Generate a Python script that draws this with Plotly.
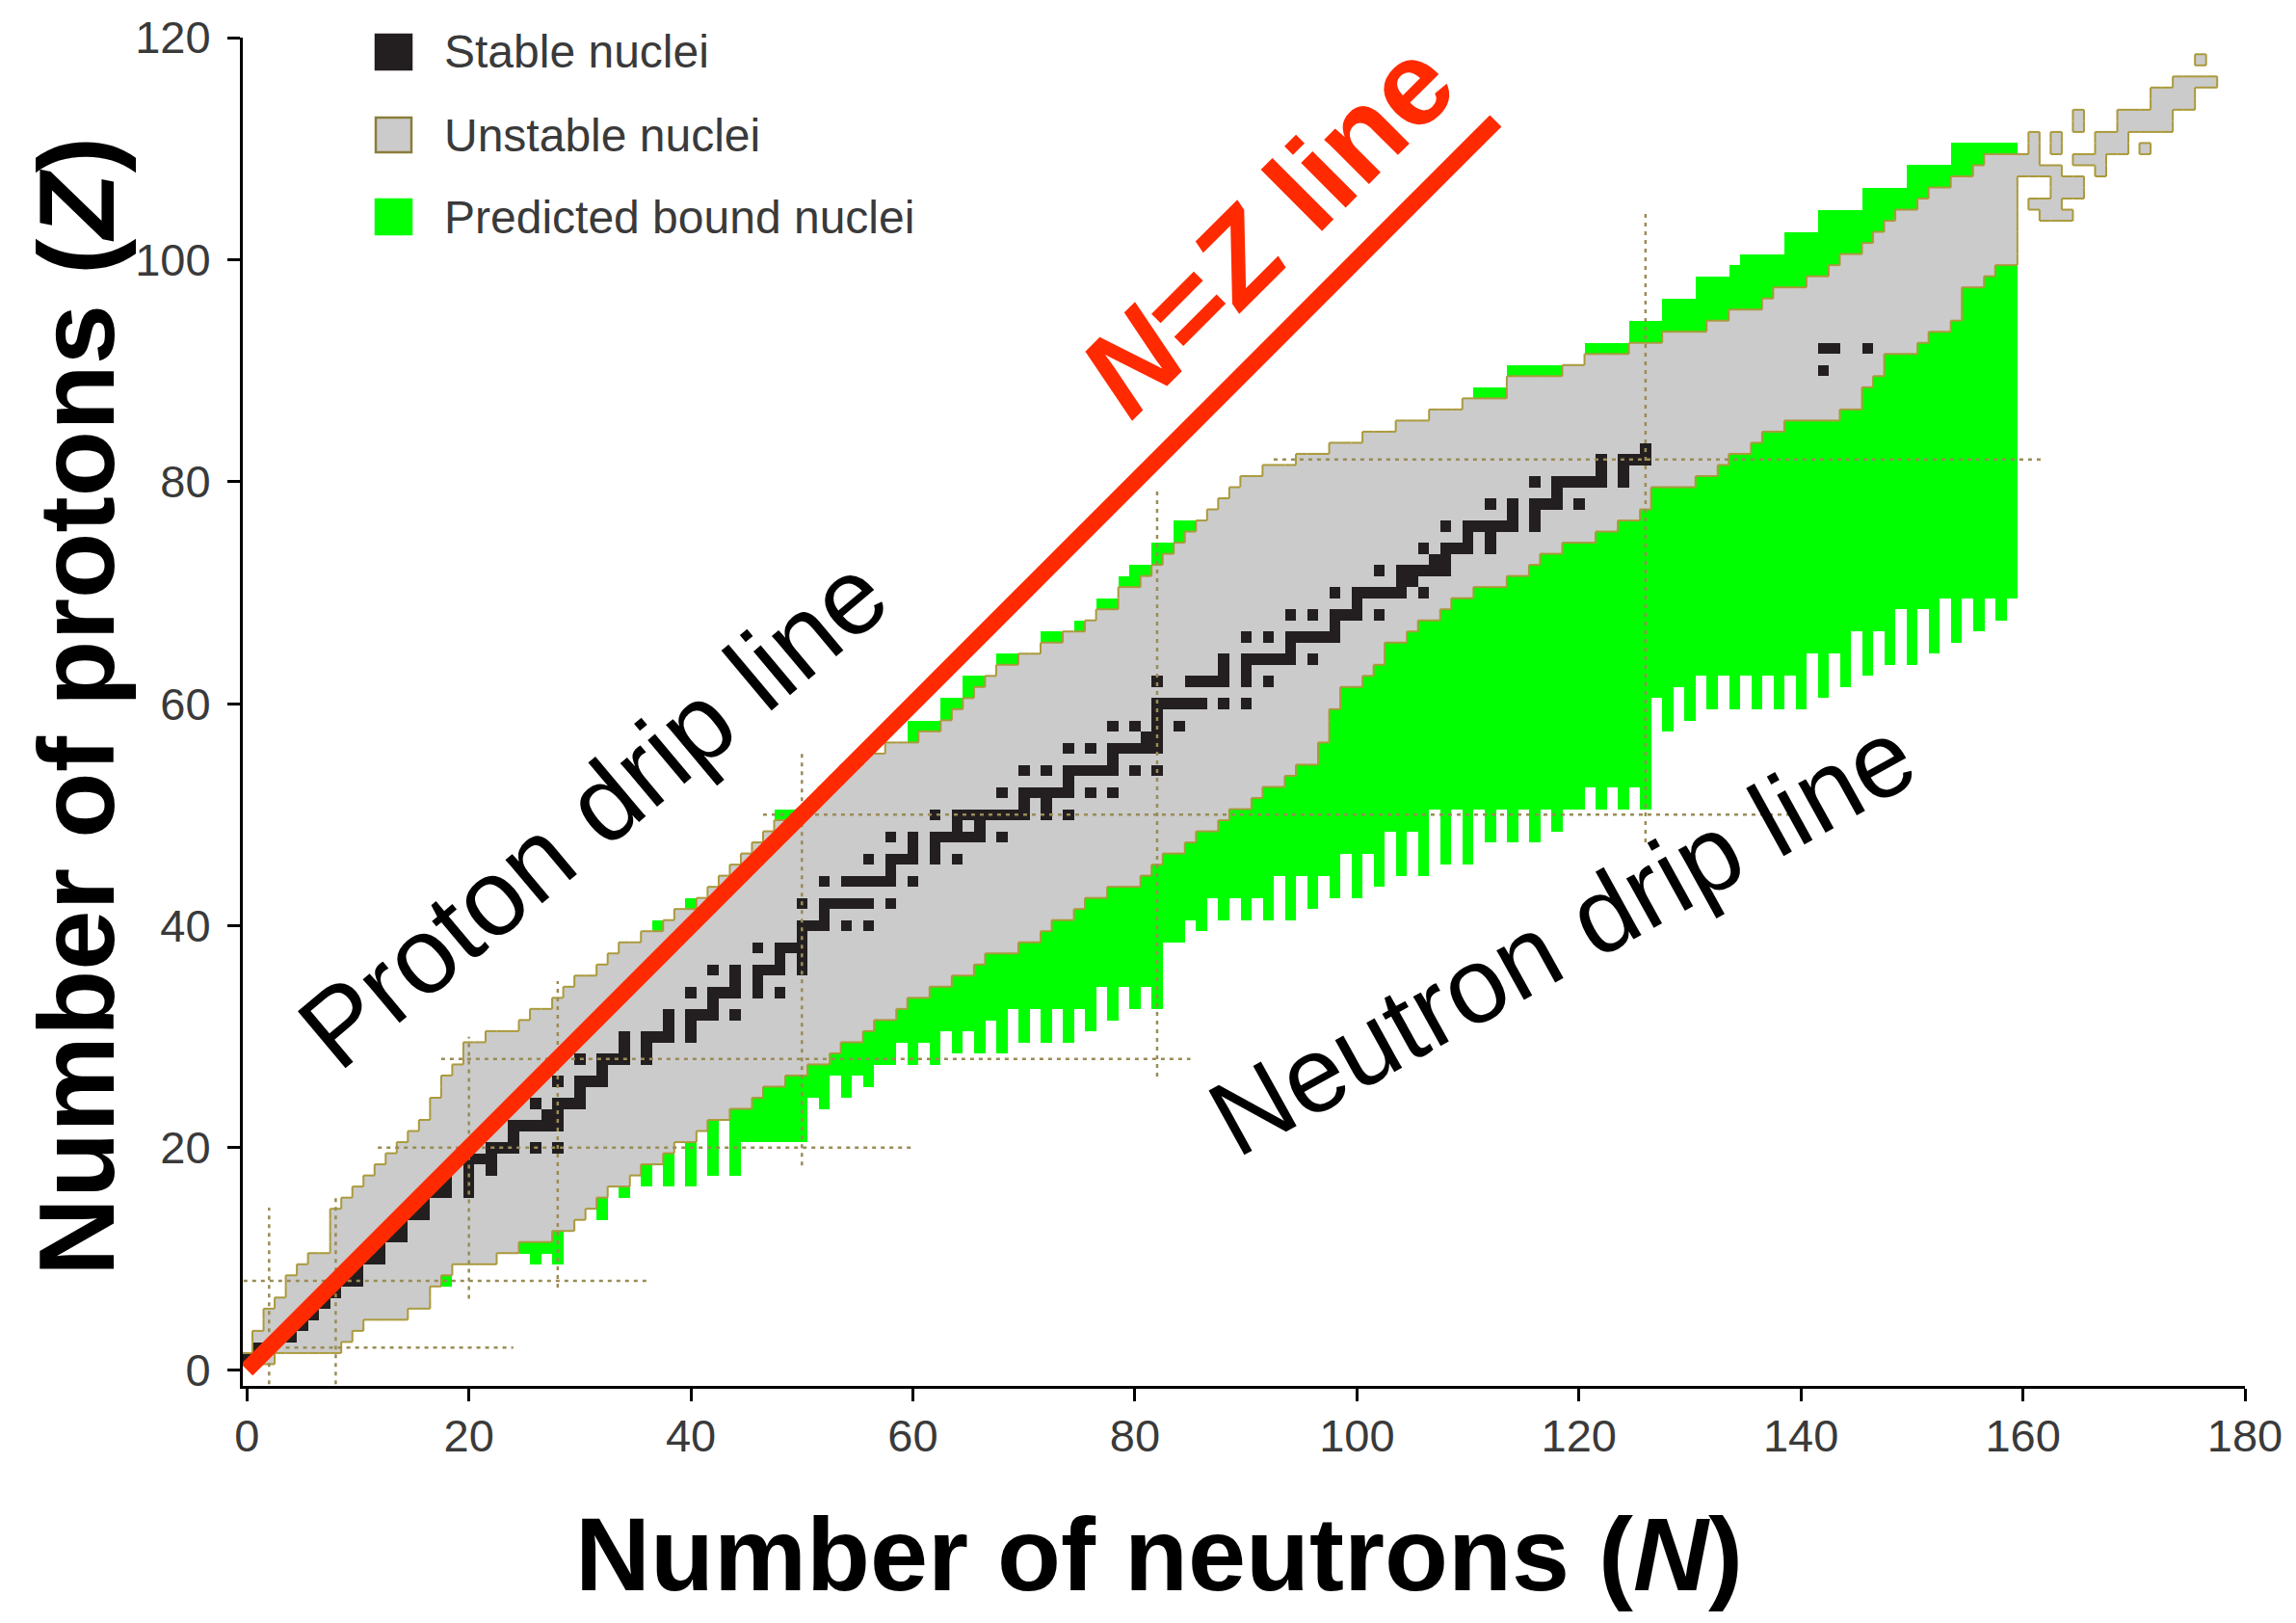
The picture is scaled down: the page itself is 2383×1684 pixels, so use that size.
import plotly.graph_objects as go

# ---------------- data ----------------
# Column-wise description of the chart of nuclides, N = 0 .. 159
# gray_lo / gray_hi : lowest / highest Z of known (unstable) nuclei per N
gray_lo = [
    1, 1, 1, 2, 2, 2, 2, 2, 2, 3,
    4, 5, 5, 5, 5, 6, 6, 8, 9, 10,
    10, 10, 10, 11, 11, 12, 12, 12, 13, 13,
    14, 15, 16, 17, 17, 18, 19, 19, 20, 21,
    21, 22, 23, 23, 24, 24, 25, 26, 26, 27,
    27, 28, 28, 29, 30, 30, 31, 32, 32, 33,
    34, 34, 35, 35, 36, 36, 37, 38, 38, 38,
    39, 39, 40, 41, 41, 42, 43, 43, 44, 44,
    44, 45, 46, 47, 47, 48, 49, 49, 50, 51,
    51, 52, 53, 53, 54, 55, 55, 57, 60, 62,
    62, 63, 64, 66, 66, 67, 68, 68, 69, 70,
    70, 71, 71, 71, 72, 72, 73, 74, 74, 75,
    75, 75, 76, 76, 77, 77, 78, 80, 80, 80,
    80, 81, 81, 82, 83, 83, 84, 85, 85, 86,
    86, 86, 86, 86, 87, 87, 89, 90, 92, 92,
    92, 93, 94, 94, 95, 98, 98, 99, 100, 100,
]
gray_hi = [
    1, 3, 5, 6, 8, 9, 10, 10, 14, 15,
    16, 17, 18, 19, 20, 21, 22, 24, 26, 27,
    29, 29, 30, 30, 30, 31, 32, 32, 33, 34,
    35, 35, 36, 37, 38, 38, 39, 39, 40, 41,
    41, 42, 43, 44, 45, 46, 47, 48, 49, 49,
    50, 51, 52, 53, 54, 54, 55, 55, 56, 56,
    56, 57, 57, 58, 59, 60, 61, 62, 63, 63,
    64, 64, 65, 65, 66, 66, 67, 68, 68, 70,
    70, 71, 72, 73, 74, 75, 76, 77, 78, 79,
    80, 80, 81, 81, 81, 82, 82, 82, 83, 83,
    83, 84, 84, 84, 85, 85, 85, 86, 86, 86,
    87, 87, 87, 87, 89, 89, 89, 89, 89, 90,
    90, 91, 91, 91, 91, 92, 92, 92, 93, 93,
    93, 93, 94, 94, 95, 95, 95, 96, 97, 97,
    97, 98, 98, 99, 100, 100, 101, 102, 103, 104,
    104, 105, 106, 106, 107, 107, 108, 109, 109, 109,
]
# green_lo / green_hi : lowest / highest Z of predicted bound nuclei per N
green_lo = [
    1, 1, 1, 2, 2, 2, 2, 2, 2, 3,
    4, 5, 5, 5, 5, 6, 6, 8, 8, 10,
    10, 10, 10, 11, 11, 11, 10, 11, 10, 13,
    14, 15, 14, 17, 16, 18, 17, 19, 17, 21,
    17, 22, 18, 23, 18, 21, 21, 21, 21, 21,
    21, 25, 24, 27, 25, 27, 26, 28, 28, 30,
    28, 30, 28, 31, 29, 31, 29, 32, 29, 33,
    30, 33, 30, 33, 30, 33, 31, 35, 32, 35,
    33, 35, 33, 39, 39, 41, 40, 43, 41, 43,
    41, 43, 41, 45, 41, 45, 42, 45, 43, 47,
    43, 47, 44, 49, 45, 49, 45, 51, 46, 51,
    46, 51, 48, 51, 48, 51, 48, 51, 49, 51,
    51, 53, 51, 53, 51, 53, 51, 61, 58, 62,
    59, 63, 60, 63, 60, 63, 60, 63, 60, 63,
    60, 65, 61, 65, 62, 67, 63, 67, 64, 69,
    64, 69, 65, 70, 66, 70, 67, 70, 68, 70,
]
green_hi = [
    1, 3, 5, 6, 8, 9, 10, 10, 14, 15,
    16, 17, 18, 19, 20, 21, 22, 24, 26, 27,
    29, 29, 30, 30, 30, 31, 32, 32, 33, 34,
    35, 35, 36, 37, 38, 38, 39, 40, 40, 41,
    42, 42, 43, 44, 45, 46, 47, 48, 50, 50,
    50, 51, 52, 53, 54, 54, 55, 55, 56, 56,
    58, 58, 58, 60, 60, 62, 62, 62, 64, 64,
    64, 64, 66, 66, 66, 67, 67, 69, 69, 71,
    72, 72, 74, 74, 76, 76, 76, 77, 78, 79,
    80, 80, 81, 81, 81, 82, 82, 82, 83, 83,
    83, 84, 84, 84, 85, 85, 85, 86, 86, 86,
    87, 88, 88, 88, 90, 90, 90, 90, 90, 90,
    90, 92, 92, 92, 92, 94, 94, 94, 96, 96,
    96, 98, 98, 98, 99, 100, 100, 100, 100, 102,
    102, 102, 104, 104, 104, 104, 106, 106, 106, 106,
    108, 108, 108, 108, 110, 110, 110, 110, 110, 110,
]
# isolated known superheavy nuclei beyond the main band (N, Z)
superheavy_N = [160, 160, 161, 161, 161, 161, 162, 163, 163, 163, 164, 164, 165, 165,
                161, 162, 163, 162, 163, 164, 163, 163, 165, 165,
                165, 166, 167, 167, 167, 168, 169, 167, 168, 169,
                169, 170, 171, 172, 173, 169, 170, 171, 172, 173, 171,
                172, 173, 174, 175, 172, 173, 174, 175, 174, 175, 176, 177, 176]
superheavy_Z = [108, 109, 108, 109, 110, 111, 108, 108, 106, 107, 106, 107, 106, 107,
                105, 105, 105, 104, 104, 104, 110, 111, 112, 113,
                109, 109, 109, 108, 110, 110, 110, 111, 111, 111,
                112, 112, 112, 112, 112, 113, 113, 113, 113, 113, 110,
                114, 114, 114, 114, 115, 115, 115, 115, 116, 116, 116, 116, 118]
# stable nuclei: proton number and the neutron numbers of its stable isotopes
stable_Z = [1, 2, 3, 4, 5, 6, 7, 8, 9, 10, 11, 12, 13, 14, 15, 16, 17, 18, 19, 20,
            21, 22, 23, 24, 25, 26, 27, 28, 29, 30, 31, 32, 33, 34, 35, 36, 37, 38, 39, 40,
            41, 42, 44, 45, 46, 47, 48, 49, 50, 51, 52, 53, 54, 55, 56, 57, 58, 59, 60,
            62, 63, 64, 65, 66, 67, 68, 69, 70, 71, 72, 73, 74, 75, 76, 77, 78, 79, 80,
            81, 82, 83, 90, 92]
stable_N = [[0, 1], [1, 2], [3, 4], [5], [5, 6], [6, 7], [7, 8], [8, 9, 10], [10], [10, 11, 12],
            [12], [12, 13, 14], [14], [14, 15, 16], [16], [16, 17, 18, 20], [18, 20], [18, 20, 22],
            [20, 21, 22], [20, 22, 23, 24, 26, 28], [24], [24, 25, 26, 27, 28], [27, 28],
            [26, 28, 29, 30], [30], [28, 30, 31, 32], [32], [30, 32, 33, 34, 36], [34, 36],
            [34, 36, 37, 38, 40], [38, 40], [38, 40, 41, 42, 44], [42], [40, 42, 43, 44, 46, 48],
            [44, 46], [42, 44, 46, 47, 48, 50], [48, 50], [46, 48, 49, 50], [50],
            [50, 51, 52, 54, 56], [52], [50, 52, 53, 54, 55, 56, 58], [52, 54, 55, 56, 57, 58, 60],
            [58], [56, 58, 59, 60, 62, 64], [60, 62], [58, 60, 62, 63, 64, 65, 66, 68], [64, 66],
            [62, 64, 65, 66, 67, 68, 69, 70, 72, 74], [70, 72], [68, 70, 71, 72, 73, 74, 76, 78],
            [74], [70, 72, 74, 75, 76, 77, 78, 80, 82], [78], [74, 76, 78, 79, 80, 81, 82],
            [81, 82], [78, 80, 82, 84], [82], [82, 83, 84, 85, 86, 88, 90],
            [82, 85, 86, 87, 88, 90, 92], [88, 90], [88, 90, 91, 92, 93, 94, 96], [94],
            [90, 92, 94, 95, 96, 97, 98], [98], [94, 96, 98, 99, 100, 102], [100],
            [98, 100, 101, 102, 103, 104, 106], [104, 105], [102, 104, 105, 106, 107, 108],
            [107, 108], [106, 108, 109, 110, 112], [110, 112], [108, 110, 111, 112, 113, 114, 116],
            [114, 116], [112, 114, 116, 117, 118, 120], [118], [116, 118, 119, 120, 121, 122, 124],
            [122, 124], [122, 124, 125, 126], [126], [142], [142, 143, 146]]

# magic-number guide lines: value and extent along the other axis
magic_N = [2, 8, 20, 28, 50, 82, 126]
magic_N_zfrom = [-1.3, -1.3, 6.4, 7.4, 18.4, 26.4, 47.5]
magic_N_zto = [14.6, 15.6, 30.0, 35.0, 55.5, 79.5, 104.3]
magic_Z = [2, 8, 20, 28, 50, 82]
magic_Z_nfrom = [3.5, -0.3, 11.8, 17.5, 46.5, 92.5]
magic_Z_nto = [24.0, 36.0, 60.0, 85.0, 139.0, 162.0]

# N = Z reference line
nz_line = [0, 112.5]

x_ticks = [0, 20, 40, 60, 80, 100, 120, 140, 160, 180]
y_ticks = [0, 20, 40, 60, 80, 100, 120]

legend_labels = ["Stable nuclei", "Unstable nuclei", "Predicted bound nuclei"]

# ---------------- build the cell grid ----------------
N_COLS = 178
Z_ROWS = 121
grid = [[None] * N_COLS for _ in range(Z_ROWS)]
for n in range(len(gray_lo)):
    for z in range(green_lo[n], green_hi[n] + 1):
        grid[z][n] = 1
    for z in range(gray_lo[n], gray_hi[n] + 1):
        grid[z][n] = 2
for n, z in zip(superheavy_N, superheavy_Z):
    grid[z][n] = 2
for z, ns in zip(stable_Z, stable_N):
    for n in ns:
        grid[z][n] = 3

GREEN = "#00ff00"
GRAY = "#cbcbcb"
BLACK = "#231f20"
OLIVE = "#aa9a3c"

fig = go.Figure()
fig.add_trace(go.Heatmap(
    x=list(range(N_COLS)), y=list(range(Z_ROWS)), z=grid,
    zmin=1, zmax=3,
    colorscale=[[0, GREEN], [0.25, GREEN], [0.25, GRAY], [0.75, GRAY], [0.75, BLACK], [1, BLACK]],
    showscale=False, hoverinfo="skip",
))


# outline of the known-nuclei cells: edges that face a non-known cell
def known(z, n):
    if 0 <= z < Z_ROWS and 0 <= n < N_COLS:
        return grid[z][n] in (2, 3)
    return False


sx, sy = [], []
for z in range(Z_ROWS):
    for n in range(N_COLS):
        if not known(z, n):
            continue
        if not known(z + 1, n):
            sx += [n - 0.5, n + 0.5, None]
            sy += [z + 0.5, z + 0.5, None]
        if not known(z - 1, n):
            sx += [n - 0.5, n + 0.5, None]
            sy += [z - 0.5, z - 0.5, None]
        if not known(z, n - 1):
            sx += [n - 0.5, n - 0.5, None]
            sy += [z - 0.5, z + 0.5, None]
        if not known(z, n + 1):
            sx += [n + 0.5, n + 0.5, None]
            sy += [z - 0.5, z + 0.5, None]
fig.add_trace(go.Scatter(x=sx, y=sy, mode="lines", line=dict(color=OLIVE, width=2),
                         connectgaps=False, hoverinfo="skip", showlegend=False))

# magic number dotted lines
for v, a, b in zip(magic_N, magic_N_zfrom, magic_N_zto):
    fig.add_trace(go.Scatter(x=[v, v], y=[a, b], mode="lines",
                             line=dict(color="#9a8c55", width=2.5, dash="4px,5px"),
                             hoverinfo="skip", showlegend=False))
for v, a, b in zip(magic_Z, magic_Z_nfrom, magic_Z_nto):
    fig.add_trace(go.Scatter(x=[a, b], y=[v, v], mode="lines",
                             line=dict(color="#9a8c55", width=2.5, dash="4px,5px"),
                             hoverinfo="skip", showlegend=False))

# N = Z line
fig.add_trace(go.Scatter(x=nz_line, y=nz_line, mode="lines",
                         line=dict(color="#ff2a00", width=17),
                         hoverinfo="skip", showlegend=False))

# ---------------- layout ----------------
W, H = 2383, 1684
L, R, T, B = 252, 53, 39, 246
pw, ph = W - L - R, H - T - B


def px_x(x):
    return (x - L) / pw


def px_y(y):
    return (H - B - y) / ph


tick_font = dict(family="Liberation Sans, Arial, sans-serif", size=47, color="#3a3a3a")
fig.update_layout(
    width=W, height=H,
    margin=dict(l=L, r=R, t=T, b=B),
    paper_bgcolor="white", plot_bgcolor="white",
    showlegend=False,
    xaxis=dict(range=[-0.37, 180], tickvals=x_ticks, showgrid=False, zeroline=False,
               showline=True, linecolor="black", linewidth=3, ticks="outside",
               ticklen=13, tickwidth=2.5, tickcolor="black", tickfont=tick_font,
               ticklabelstandoff=-4),
    yaxis=dict(range=[-1.46, 120], tickvals=y_ticks, showgrid=False, zeroline=False,
               showline=True, linecolor="black", linewidth=3, ticks="outside",
               ticklen=13, tickwidth=2.5, tickcolor="black", tickfont=tick_font,
               ticklabelstandoff=8),
)

big = "Liberation Sans, Arial, sans-serif"
annotations = [
    dict(text="<b>Number of neutrons (<i>N</i>)</b>", x=px_x(1203), y=px_y(1612),
         xref="paper", yref="paper", showarrow=False, xanchor="center", yanchor="middle",
         font=dict(family=big, size=108, color="black")),
    dict(text="<b>Number of protons (<i>Z</i>)</b>", x=px_x(79), y=px_y(733),
         xref="paper", yref="paper", showarrow=False, xanchor="center", yanchor="middle",
         textangle=-90, font=dict(family=big, size=112, color="black")),
    dict(text="<b><i>N</i>=<i>Z</i> line</b>", x=91.9, y=102.9, xref="x", yref="y",
         showarrow=False, textangle=-45, font=dict(family=big, size=124, color="#ff2a00")),
    dict(text="Proton drip line", x=31.2, y=50.2, xref="x", yref="y",
         showarrow=False, textangle=-40, font=dict(family=big, size=112, color="black")),
    dict(text="Neutron drip line", x=118.5, y=39.0, xref="x", yref="y",
         showarrow=False, textangle=-29, font=dict(family=big, size=111, color="black")),
]

# legend drawn as swatches + labels
swatch_fill = [BLACK, GRAY, GREEN]
swatch_line = [BLACK, "#8a7d3a", GREEN]
row_centers = [54, 140, 225]
shapes = []
for lab, fc, lc, yc in zip(legend_labels, swatch_fill, swatch_line, row_centers):
    shapes.append(dict(type="rect", xref="paper", yref="paper",
                       x0=px_x(390), x1=px_x(427), y0=px_y(yc + 18), y1=px_y(yc - 18),
                       fillcolor=fc, line=dict(color=lc, width=2.5)))
    annotations.append(dict(text=lab, x=px_x(459), y=px_y(yc), xref="paper", yref="paper",
                            showarrow=False, xanchor="left", yanchor="middle",
                            font=dict(family=big, size=48, color="#3a3a3a")))

fig.update_layout(annotations=annotations, shapes=shapes)
fig.write_html("out.html")
